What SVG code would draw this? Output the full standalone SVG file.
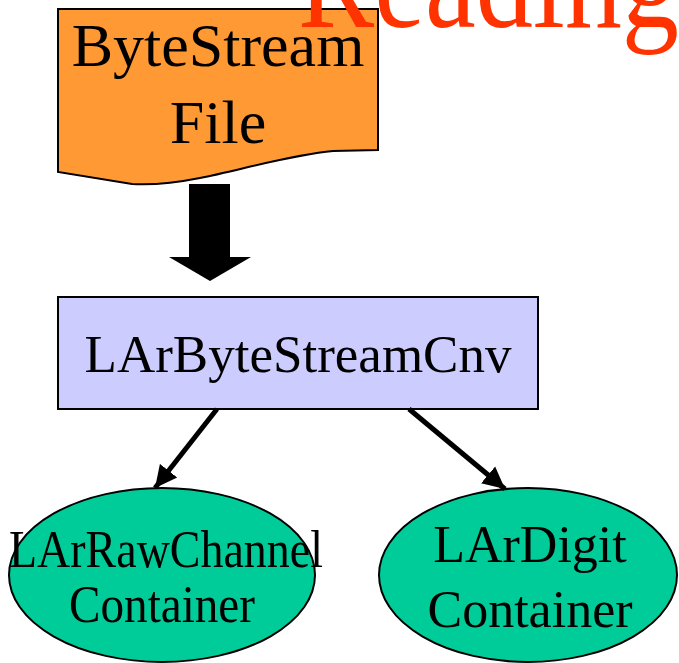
<svg xmlns="http://www.w3.org/2000/svg" width="679" height="663" viewBox="0 0 679 663">
  <style>
    .shape { stroke: #000; stroke-width: 2; }
    .label { font-family: "Liberation Serif", "Times New Roman", serif; fill: #000; text-anchor: middle; }
    .link { stroke: #000; stroke-width: 5; fill: none; marker-end: url(#head); }
  </style>
  <defs>
    <marker id="head" markerUnits="userSpaceOnUse" markerWidth="26" markerHeight="24" refX="22" refY="11" orient="auto" viewBox="0 0 26 22">
      <path d="M0,0 L22,11 L0,22 Z" fill="#000"/>
    </marker>
  </defs>

  <rect width="679" height="663" fill="#fff"/>

  <!-- data file (document shape with wavy bottom) -->
  <g id="bytestream-file">
    <path class="shape" fill="#FF9933" d="M58,9 H378 V150 L333,151 C290,155 240,170 200,178 C170,184 150,185 132,184 L58,172 Z"/>
    <text class="label" x="218" y="66" font-size="62">ByteStream</text>
    <text class="label" x="218" y="143" font-size="62">File</text>
  </g>

  <!-- title -->
  <text x="298" y="27" font-family="Liberation Serif, serif" font-size="132" fill="#FF3300" textLength="381" lengthAdjust="spacingAndGlyphs">Reading</text>

  <!-- converter -->
  <g id="converter">
    <rect class="shape" x="58" y="297" width="480" height="112" fill="#CCCCFF"/>
    <text class="label" x="298" y="372" font-size="52" textLength="427" lengthAdjust="spacingAndGlyphs">LArByteStreamCnv</text>
  </g>

  <!-- output containers -->
  <g id="rawchannel-container">
    <ellipse class="shape" cx="162" cy="575" rx="153" ry="87" fill="#00CC99"/>
    <text class="label" x="166" y="567" font-size="52" textLength="314" lengthAdjust="spacingAndGlyphs">LArRawChannel</text>
    <text class="label" x="162" y="622" font-size="52" textLength="186" lengthAdjust="spacingAndGlyphs">Container</text>
  </g>

  <g id="digit-container">
    <ellipse class="shape" cx="528" cy="575" rx="149" ry="87" fill="#00CC99"/>
    <text class="label" x="530" y="562" font-size="52">LArDigit</text>
    <text class="label" x="530" y="627" font-size="52">Container</text>
  </g>

  <!-- connectors -->
  <g id="connectors">
    <polygon points="189,184 230,184 230,257 251,257 210,281 169,257 189,257" fill="#000"/>
    <line class="link" x1="217" y1="409" x2="155" y2="488"/>
    <line class="link" x1="409" y1="409" x2="505" y2="489"/>
  </g>
</svg>
